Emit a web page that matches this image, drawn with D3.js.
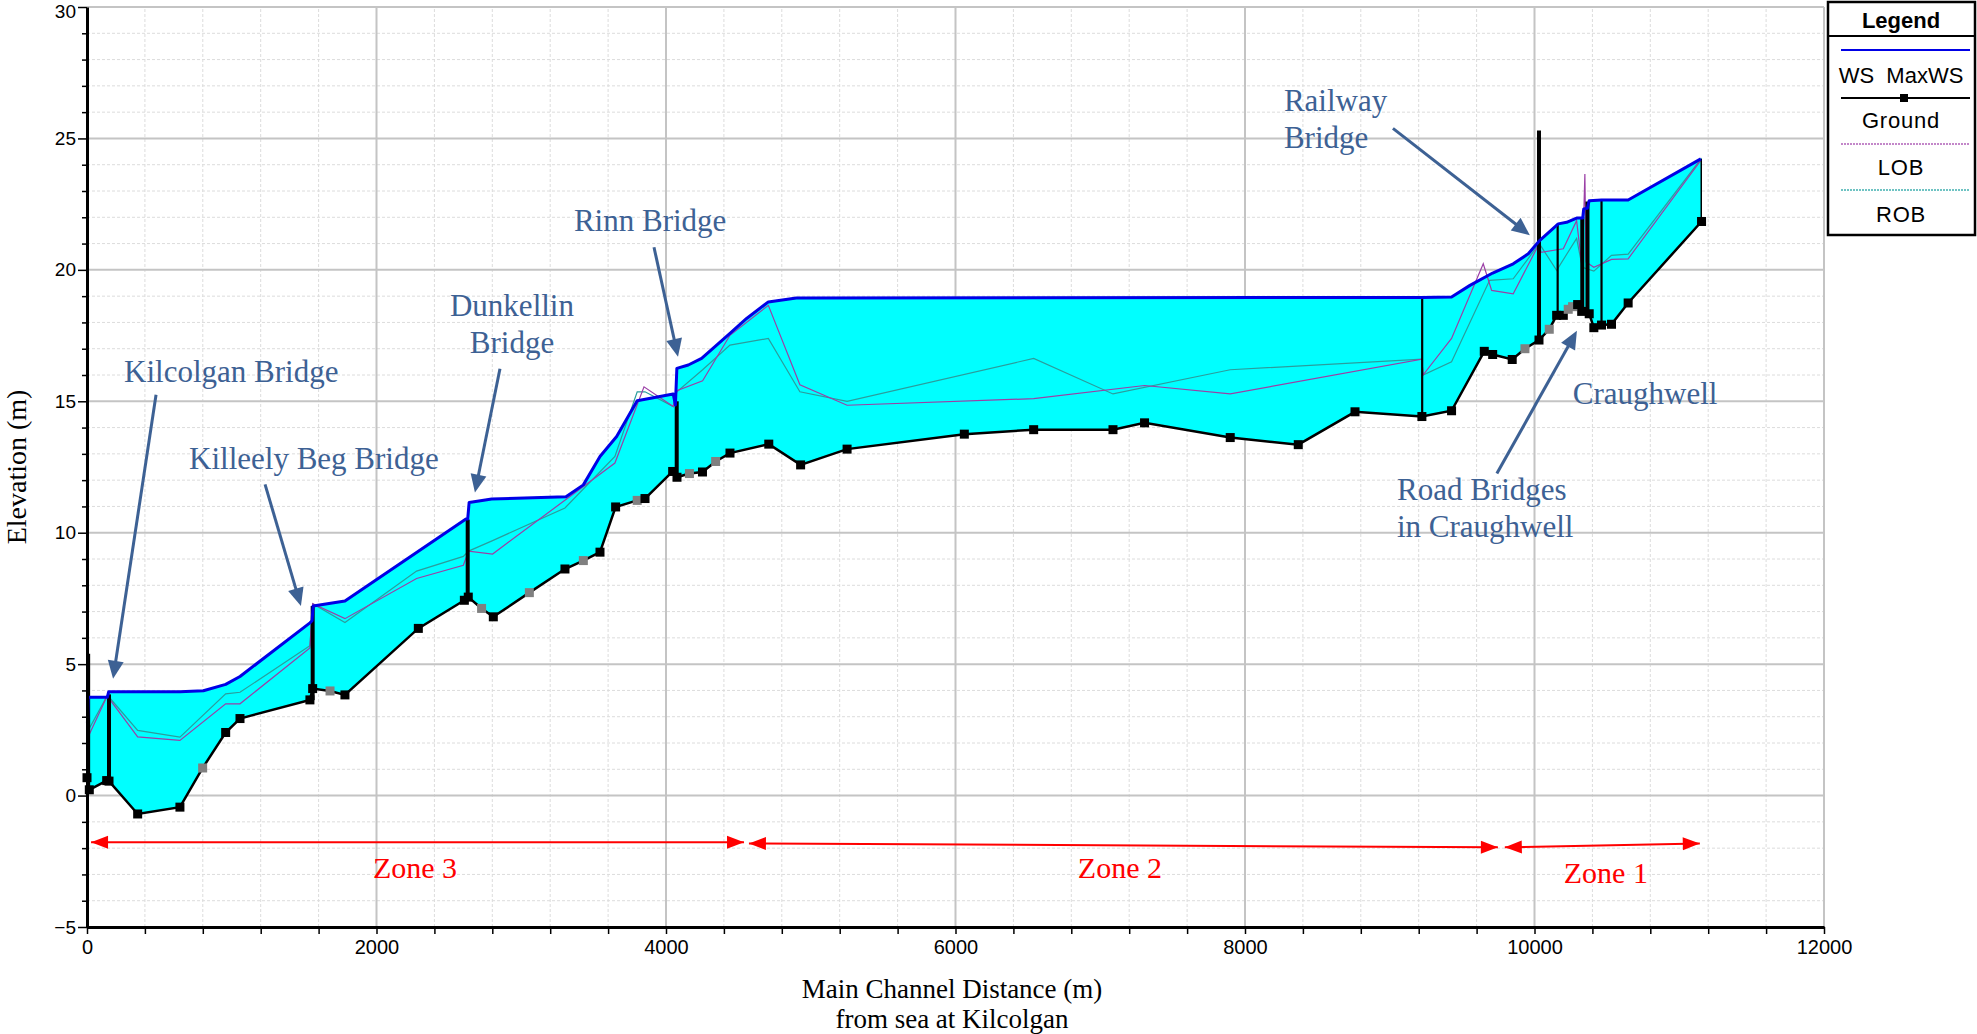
<!DOCTYPE html>
<html>
<head>
<meta charset="utf-8">
<script src="https://cdnjs.cloudflare.com/ajax/libs/d3/7.8.5/d3.min.js"></script>
<style>
body { margin: 0; background: #fff; }
svg text { font-family: "Liberation Sans", Arial, sans-serif; }
svg text.serif { font-family: "Liberation Serif", "Times New Roman", serif; }
</style>
</head>
<body>
<svg id="chart" width="1977" height="1034"></svg>
<script>
// Long profile (distance in m, elevation in m)
const groundDist = [0, 16, 136, 152, 350, 642, 799, 958, 1057, 1540, 1559, 1679, 1782, 2289, 2607, 2634, 2726, 2807, 3056, 3302,
  3429, 3544, 3652, 3801, 3855, 4046, 4076, 4162, 4252, 4343, 4442, 4710, 4930, 5251, 6061, 6540, 7088, 7306, 7898, 8368,
  8760, 9222, 9427, 9653, 9711, 9846, 9934, 10031, 10102, 10153, 10199, 10233, 10263, 10298, 10326, 10378, 10410, 10463, 10532, 10647, 11154];
const groundElev = [0.68, 0.22, 0.57, 0.55, -0.70, -0.44, 1.05, 2.40, 2.93, 3.64, 4.07, 3.98, 3.83, 6.36, 7.43, 7.55, 7.12, 6.80, 7.72, 8.62,
  8.94, 9.26, 10.98, 11.23, 11.30, 12.33, 12.11, 12.25, 12.31, 12.71, 13.03, 13.37, 12.58, 13.18, 13.75, 13.92, 13.92, 14.18, 13.62, 13.35,
  14.60, 14.42, 14.64, 16.90, 16.78, 16.59, 17.00, 17.33, 17.74, 18.27, 18.27, 18.50, 18.60, 18.68, 18.42, 18.33, 17.80, 17.90, 17.93, 18.74, 21.84];
// interpolated cross sections (grey markers)
const groundInterpDist = [799, 1679, 2726, 3056, 3429, 3801, 4162, 4343, 9934, 10102, 10233, 10263];

const wsDist = [3, 8, 140, 150, 642, 804, 958, 1057, 1540, 1555, 1562, 1782, 2618, 2630, 2640, 2796, 3309, 3429, 3544, 3659,
  3801, 4050, 4065, 4075, 4154, 4246, 4442, 4557, 4707, 4900, 9222, 9427, 9554, 9711, 9853, 9957, 10033, 10164, 10222, 10291,
  10333, 10340, 10365, 10378, 10463, 10647, 11149];
const wsElev = [2.75, 3.74, 3.74, 3.95, 3.95, 3.99, 4.23, 4.53, 6.57, 6.65, 7.21, 7.40, 10.52, 10.52, 11.15, 11.28, 11.37, 11.82, 12.90, 13.66,
  15.02, 15.28, 14.86, 16.25, 16.38, 16.63, 17.58, 18.15, 18.78, 18.93, 18.95, 18.97, 19.41, 19.88, 20.23, 20.61, 21.10, 21.75, 21.81, 21.97,
  21.97, 22.32, 22.34, 22.63, 22.66, 22.66, 24.22];

const lobDist = [5, 140, 152, 350, 642, 958, 1057, 1540, 1559, 1782, 2277, 2600, 2636, 2802, 3647, 3848, 4050, 4075, 4253, 4442,
  4707, 4925, 5251, 6540, 7306, 7898, 9222, 9230, 9427, 9646, 9704, 9853, 10033, 10045, 10199, 10291, 10330, 10348, 10356, 10410,
  10532, 10647, 11154];
const lobElev = [2.2, 3.8, 3.7, 2.23, 2.1, 3.49, 3.49, 5.62, 7.3, 6.73, 8.26, 8.76, 9.3, 9.19, 12.65, 15.55, 14.8, 15.4, 15.78, 17.51,
  18.65, 15.63, 14.85, 15.1, 15.6, 15.28, 16.6, 16.0, 17.39, 20.23, 19.22, 19.09, 21.0, 20.67, 20.8, 21.87, 20.04, 23.65, 20.3, 20.1,
  20.4, 20.42, 24.2];

const robDist = [5, 140, 152, 350, 642, 958, 1057, 1540, 1559, 1782, 2277, 2600, 2636, 2802, 3302, 3647, 3801, 3855, 4050, 4075,
  4253, 4442, 4707, 4925, 5251, 6540, 7088, 7898, 9222, 9230, 9427, 9690, 9853, 10033, 10153, 10291, 10330, 10410, 10532, 10647, 11154];
const robElev = [2.45, 3.8, 3.75, 2.48, 2.22, 3.87, 3.93, 5.7, 7.3, 6.58, 8.54, 9.1, 9.3, 9.7, 10.94, 12.9, 15.36, 15.36, 14.8, 15.36,
  16.2, 17.14, 17.39, 15.36, 15.0, 16.63, 15.28, 16.2, 16.6, 16.0, 16.5, 19.6, 19.66, 21.0, 19.98, 21.2, 20.1, 19.95, 20.55, 20.6, 24.25];

// structures drawn as vertical lines
const structDist = [8, 152, 1559, 2630, 4074, 9224, 10031, 10160, 10330, 10366, 10463, 11152];
const structLow = [0.22, 0.55, 3.63, 7.5, 12.1, 14.42, 17.3, 18.27, 18.4, 18.35, 17.9, 21.84];
const structHigh = [5.4, 3.85, 7.21, 10.5, 15.0, 18.95, 25.3, 21.75, 22.0, 22.6, 22.66, 24.22];
const structKind = ["bridge", "bridge", "bridge", "bridge", "bridge", "xs", "bridge", "xs", "bridge", "bridge", "xs", "end"];

const xTicks = [0, 2000, 4000, 6000, 8000, 10000, 12000];
const yTicks = [-5, 0, 5, 10, 15, 20, 25, 30];

// ---------------------------------------------------------------
const svg = d3.select("#chart");
const x = d3.scaleLinear().domain([0, 12000]).range([87, 1824]);
const y = d3.scaleLinear().domain([-5, 30]).range([927, 7]);

const zip = (ds, es) => ds.map((d, i) => [d, es[i]]);
const ground = zip(groundDist, groundElev);
const ws = zip(wsDist, wsElev);
const lob = zip(lobDist, lobElev);
const rob = zip(robDist, robElev);
const line = d3.line().x(d => x(d[0])).y(d => y(d[1]));

// gridlines
const grid = svg.append("g");
grid.selectAll(".gx").data(d3.range(400, 12001, 400).filter(v => v % 2000 !== 0)).enter().append("line")
  .attr("x1", d => x(d)).attr("x2", d => x(d)).attr("y1", y(-5)).attr("y2", y(30))
  .attr("stroke", "#dcdcdc").attr("stroke-width", 1).attr("stroke-dasharray", "3,2");
grid.selectAll(".gy").data(d3.range(-4, 31, 1).filter(v => v % 5 !== 0)).enter().append("line")
  .attr("x1", x(0)).attr("x2", x(12000)).attr("y1", d => y(d)).attr("y2", d => y(d))
  .attr("stroke", "#dcdcdc").attr("stroke-width", 1).attr("stroke-dasharray", "3,2");
grid.selectAll(".gX").data(xTicks.slice(1)).enter().append("line")
  .attr("x1", d => x(d)).attr("x2", d => x(d)).attr("y1", y(-5)).attr("y2", y(30))
  .attr("stroke", "#c4c4c4").attr("stroke-width", 2);
grid.selectAll(".gY").data(yTicks.slice(1)).enter().append("line")
  .attr("x1", x(0)).attr("x2", x(12000)).attr("y1", d => y(d)).attr("y2", d => y(d))
  .attr("stroke", "#c4c4c4").attr("stroke-width", 2);

// water between ground and WS
const poly = ws.concat(ground.slice().reverse());
svg.append("path").attr("d", line(poly) + "Z").attr("fill", "#00ffff").attr("stroke", "none");

// bank lines
svg.append("path").attr("d", line(rob)).attr("fill", "none").attr("stroke", "#2a9d9d").attr("stroke-width", 1.2);
svg.append("path").attr("d", line(lob)).attr("fill", "none").attr("stroke", "#9b3fa6").attr("stroke-width", 1.2);

// structures
svg.selectAll(".st").data(structDist).enter().append("line")
  .attr("x1", d => x(d)).attr("x2", d => x(d))
  .attr("y1", (d, i) => y(structLow[i])).attr("y2", (d, i) => y(structHigh[i]))
  .attr("stroke", "#000")
  .attr("stroke-width", (d, i) => structKind[i] === "bridge" ? 4 : (structKind[i] === "xs" ? 2.2 : 1.5));

// water surface
svg.append("path").attr("d", line(ws)).attr("fill", "none").attr("stroke", "#0000e6").attr("stroke-width", 3).attr("stroke-linejoin", "round");

// ground
svg.append("path").attr("d", line(ground)).attr("fill", "none").attr("stroke", "#000").attr("stroke-width", 2.5);
svg.selectAll(".gp").data(ground).enter().append("rect")
  .attr("x", d => x(d[0]) - 4.5).attr("y", d => y(d[1]) - 4.5).attr("width", 9).attr("height", 9)
  .attr("fill", d => groundInterpDist.includes(d[0]) ? "#808080" : "#000");

// axes
const axL = svg.append("g").attr("transform", `translate(${x(0)},0)`)
  .call(d3.axisLeft(y).tickValues(yTicks).tickFormat(d3.format("d")).tickSize(9).tickPadding(2).tickSizeOuter(0));
svg.append("g").attr("transform", `translate(${x(0)},0)`)
  .call(d3.axisLeft(y).tickValues(d3.range(-4, 30, 1).filter(v => v % 5 !== 0)).tickSize(5).tickFormat("").tickSizeOuter(0))
  .call(g => g.select(".domain").remove());
const axB = svg.append("g").attr("transform", `translate(0,${y(-5)})`)
  .call(d3.axisBottom(x).tickValues(xTicks).tickFormat(d3.format("d")).tickSize(7).tickPadding(6).tickSizeOuter(0));
svg.append("g").attr("transform", `translate(0,${y(-5)})`)
  .call(d3.axisBottom(x).tickValues(d3.range(400, 12000, 400).filter(v => v % 2000 !== 0)).tickSize(7).tickFormat("").tickSizeOuter(0))
  .call(g => g.select(".domain").remove());
svg.selectAll(".tick line").attr("stroke", "#000").attr("stroke-width", 1.5);
axL.select(".domain").attr("stroke", "#000").attr("stroke-width", 3);
axB.select(".domain").attr("stroke", "#000").attr("stroke-width", 3);
axL.selectAll("text").attr("font-size", 19).attr("fill", "#000").style("font-family", "'Liberation Sans', Arial, sans-serif");
axL.selectAll(".tick text").filter(d => d === 30).attr("dy", "0.55em");
axB.selectAll("text").attr("font-size", 20).attr("fill", "#000").style("font-family", "'Liberation Sans', Arial, sans-serif");

// axis titles
svg.append("text").attr("class", "serif").attr("transform", `translate(26,${y(12.5)}) rotate(-90)`)
  .attr("text-anchor", "middle").attr("font-size", 28).text("Elevation (m)");
svg.append("text").attr("class", "serif").attr("x", 952).attr("y", 998).attr("text-anchor", "middle")
  .attr("font-size", 27).text("Main Channel Distance (m)");
svg.append("text").attr("class", "serif").attr("x", 952).attr("y", 1028).attr("text-anchor", "middle")
  .attr("font-size", 27).text("from sea at Kilcolgan");

// annotations (positions in data units)
function head(x1, y1, x2, y2, len, half) {
  const a = Math.atan2(y2 - y1, x2 - x1);
  const bx = x2 - len * Math.cos(a), by = y2 - len * Math.sin(a);
  const nx = -Math.sin(a) * half, ny = Math.cos(a) * half;
  return `M${x2},${y2}L${bx + nx},${by + ny}L${bx - nx},${by - ny}Z`;
}
const blue = "#3d6194";
const labels = [
  { t: ["Kilcolgan Bridge"], d: 256, e: 15.74, anchor: "start" },
  { t: ["Killeely Beg Bridge"], d: 705, e: 12.41, anchor: "start" },
  { t: ["Dunkellin", "Bridge"], d: 2936, e: 18.25, anchor: "middle" },
  { t: ["Rinn Bridge"], d: 3364, e: 21.47, anchor: "start" },
  { t: ["Railway", "Bridge"], d: 8269, e: 26.06, anchor: "start" },
  { t: ["Craughwell"], d: 10265, e: 14.91, anchor: "start" },
  { t: ["Road Bridges", "in Craughwell"], d: 9050, e: 11.23, anchor: "start" }
];
const arrows = [
  [477, 15.25, 180, 4.44], [1230, 11.84, 1478, 7.21], [2853, 16.24, 2680, 11.53],
  [3917, 20.86, 4083, 16.69], [9022, 25.38, 9968, 21.32], [9740, 12.25, 10293, 17.68]
];
labels.forEach(l => {
  const tx = svg.append("text").attr("class", "serif").attr("x", x(l.d)).attr("y", y(l.e))
    .attr("text-anchor", l.anchor).attr("font-size", 31).attr("fill", blue);
  l.t.forEach((s, i) => tx.append("tspan").attr("x", x(l.d)).attr("dy", i ? 37 : 0).text(s));
});
arrows.forEach(a => {
  const x1 = x(a[0]), y1 = y(a[1]), x2 = x(a[2]), y2 = y(a[3]);
  const ang = Math.atan2(y2 - y1, x2 - x1);
  svg.append("line").attr("x1", x1).attr("y1", y1).attr("x2", x2 - 14 * Math.cos(ang)).attr("y2", y2 - 14 * Math.sin(ang))
    .attr("stroke", blue).attr("stroke-width", 3);
  svg.append("path").attr("d", head(x1, y1, x2, y2, 18, 8)).attr("fill", blue);
});

// zones
const zones = [
  { name: "Zone 3", d1: 28, e1: -1.78, d2: 4539, e2: -1.78, ld: 2266, le: -3.15 },
  { name: "Zone 2", d1: 4573, e1: -1.82, d2: 9747, e2: -1.97, ld: 7136, le: -3.15 },
  { name: "Zone 1", d1: 9795, e1: -1.97, d2: 11142, e2: -1.82, ld: 10493, le: -3.34 }
];
zones.forEach(z => {
  const x1 = x(z.d1), y1 = y(z.e1), x2 = x(z.d2), y2 = y(z.e2);
  svg.append("line").attr("x1", x1).attr("y1", y1).attr("x2", x2).attr("y2", y2).attr("stroke", "#ff0000").attr("stroke-width", 2);
  svg.append("path").attr("d", head(x1, y1, x2, y2, 17, 6.5) + head(x2, y2, x1, y1, 17, 6.5)).attr("fill", "#ff0000");
  svg.append("text").attr("class", "serif").attr("x", x(z.ld)).attr("y", y(z.le)).attr("text-anchor", "middle")
    .attr("font-size", 30).attr("fill", "#ff0000").text(z.name);
});

// legend
const lg = svg.append("g");
lg.append("rect").attr("x", 1828).attr("y", 2).attr("width", 147).attr("height", 233)
  .attr("fill", "#fff").attr("stroke", "#000").attr("stroke-width", 2.5);
lg.append("line").attr("x1", 1828).attr("x2", 1975).attr("y1", 36).attr("y2", 36).attr("stroke", "#000").attr("stroke-width", 2);
lg.append("text").attr("x", 1901).attr("y", 28).attr("text-anchor", "middle").attr("font-size", 22).attr("font-weight", "bold").text("Legend");
lg.append("line").attr("x1", 1841).attr("x2", 1970).attr("y1", 50).attr("y2", 50).attr("stroke", "#0000e6").attr("stroke-width", 2);
lg.append("text").attr("x", 1901).attr("y", 83).attr("text-anchor", "middle").attr("font-size", 22)
  .attr("xml:space", "preserve").text("WS  MaxWS");
lg.append("line").attr("x1", 1841).attr("x2", 1970).attr("y1", 98).attr("y2", 98).attr("stroke", "#000").attr("stroke-width", 2);
lg.append("rect").attr("x", 1900).attr("y", 94).attr("width", 8).attr("height", 8).attr("fill", "#000");
lg.append("text").attr("x", 1901).attr("y", 128).attr("text-anchor", "middle").attr("font-size", 22).attr("letter-spacing", 0.8).text("Ground");
lg.append("line").attr("x1", 1841).attr("x2", 1970).attr("y1", 144).attr("y2", 144).attr("stroke", "#b060b8").attr("stroke-width", 1.5).attr("stroke-dasharray", "2,1");
lg.append("text").attr("x", 1901).attr("y", 175).attr("text-anchor", "middle").attr("font-size", 22).attr("letter-spacing", 0.8).text("LOB");
lg.append("line").attr("x1", 1841).attr("x2", 1970).attr("y1", 190).attr("y2", 190).attr("stroke", "#40b0b0").attr("stroke-width", 1.5).attr("stroke-dasharray", "2,1");
lg.append("text").attr("x", 1901).attr("y", 222).attr("text-anchor", "middle").attr("font-size", 22).attr("letter-spacing", 0.8).text("ROB");
</script>
</body>
</html>
